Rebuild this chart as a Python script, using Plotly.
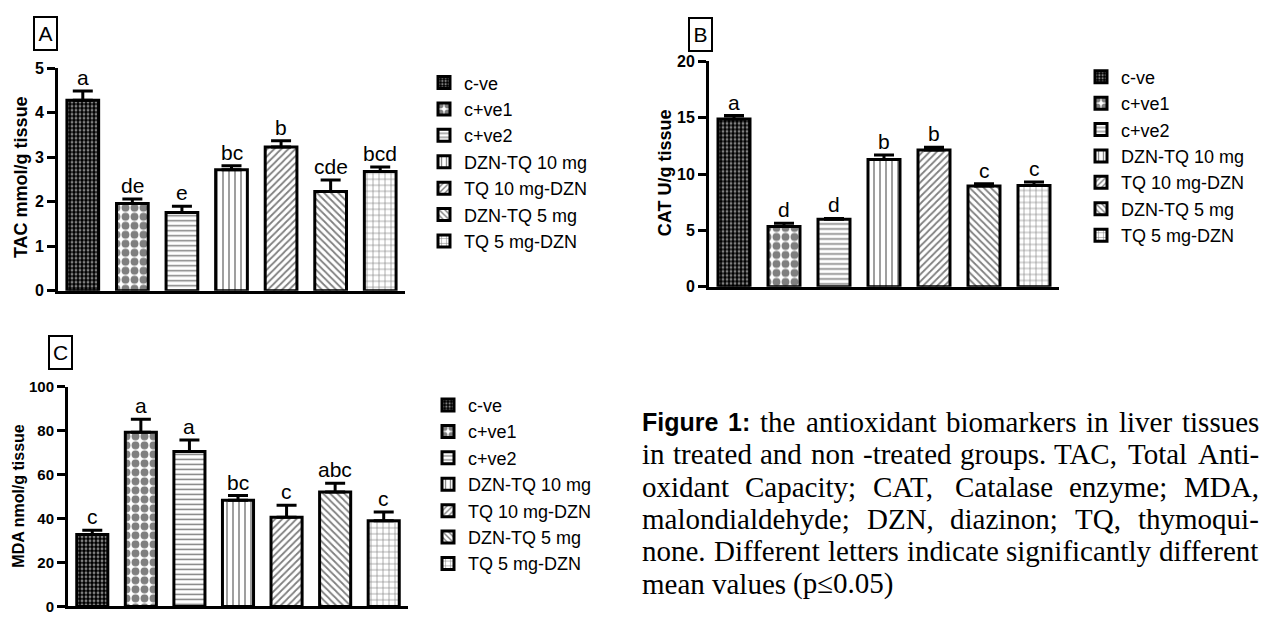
import plotly.graph_objects as go

# ---------------- data ----------------
groups = ["c-ve", "c+ve1", "c+ve2", "DZN-TQ 10 mg", "TQ 10 mg-DZN", "DZN-TQ 5 mg", "TQ 5 mg-DZN"]

tac_mean = [4.28, 1.96, 1.76, 2.72, 3.23, 2.23, 2.68]
tac_err = [0.21, 0.10, 0.14, 0.09, 0.14, 0.26, 0.10]
tac_letters = ["a", "de", "e", "bc", "b", "cde", "bcd"]

cat_mean = [14.9, 5.35, 5.99, 11.3, 12.14, 8.95, 9.0]
cat_err = [0.3, 0.3, 0.08, 0.4, 0.25, 0.2, 0.3]
cat_letters = ["a", "d", "d", "b", "b", "c", "c"]

mda_mean = [32.8, 79.3, 70.6, 48.4, 40.6, 52.1, 39.0]
mda_err = [1.9, 5.9, 5.2, 2.1, 5.5, 4.0, 4.0]
mda_letters = ["c", "a", "a", "bc", "c", "abc", "c"]

tac_ticks = [0, 1, 2, 3, 4, 5]
cat_ticks = [0, 5, 10, 15, 20]
mda_ticks = [0, 20, 40, 60, 80, 100]

caption_lines = [
    "Figure 1: the antioxidant biomarkers in liver tissues",
    "in treated and non -treated groups. TAC, Total Anti-",
    "oxidant Capacity; CAT, Catalase enzyme; MDA,",
    "malondialdehyde; DZN, diazinon; TQ, thymoqui-",
    "none. Different letters indicate significantly different",
    "mean values (p\u22640.05)",
]

# ---------------- styles ----------------
W, H = 1262, 629
SANS = "Liberation Sans, Arial, sans-serif"
SERIF = "Liberation Serif, Times New Roman, serif"

def px(x):
    return x / W

def py(y):
    return 1 - y / H

patterns = [
    dict(shape=".", bgcolor="black", fgcolor="white", size=4, solidity=0.4),
    dict(shape=".", bgcolor="white", fgcolor="black", size=9, solidity=0.6),
    dict(shape="-", bgcolor="white", fgcolor="black", size=5, solidity=0.3),
    dict(shape="|", bgcolor="white", fgcolor="black", size=6, solidity=0.25),
    dict(shape="/", bgcolor="white", fgcolor="black", size=5, solidity=0.35),
    dict(shape="\\", bgcolor="white", fgcolor="black", size=5, solidity=0.35),
    dict(shape="+", bgcolor="white", fgcolor="black", size=6, solidity=0.2),
]

panels = [
    dict(vals=tac_mean, errs=tac_err, letters=tac_letters, ticks=tac_ticks,
         xa="x", ya="y", lg="legend",
         xdom=(58, 405), ydom=(290, 61), rng=(0, 5),
         title="TAC mmol/g tissue", tpos=(21, 173), tsize=18,
         label="A", lpos=(45.5, 25.5), legpos=(424, 57), tick_size=16),
    dict(vals=cat_mean, errs=cat_err, letters=cat_letters, ticks=cat_ticks,
         xa="x2", ya="y2", lg="legend2",
         xdom=(709, 1059), ydom=(286, 54), rng=(0, 20),
         title="CAT U/g tissue", tpos=(665, 169), tsize=18,
         label="B", lpos=(700.5, 26), legpos=(1081, 51), tick_size=16),
    dict(vals=mda_mean, errs=mda_err, letters=mda_letters, ticks=mda_ticks,
         xa="x3", ya="y3", lg="legend3",
         xdom=(68, 408), ydom=(615, 389), rng=(0, 100),
         title="MDA nmol/g tissue", tpos=(19, 501), tsize=16,
         label="C", lpos=(60, 353.5), legpos=(428, 389), tick_size=15),
]

fig = go.Figure()
annotations = []
layout = {}

for k, p in enumerate(panels):
    sfx = "" if k == 0 else str(k + 1)
    for i, g in enumerate(groups):
        fig.add_trace(go.Bar(
            x=[g], y=[p["vals"][i]], name=g,
            xaxis=p["xa"], yaxis=p["ya"], legend=p["lg"],
            width=0.64,
            marker=dict(color="white", line=dict(color="black", width=3),
                        pattern=patterns[i]),
            error_y=dict(type="data", array=[p["errs"][i]], arrayminus=[0],
                         symmetric=False, color="black", thickness=3, width=10),
            hoverinfo="skip",
        ))
        annotations.append(dict(
            x=g, y=p["vals"][i] + p["errs"][i], xref=p["xa"], yref=p["ya"],
            text=p["letters"][i], showarrow=False, yanchor="bottom",
            font=dict(family=SANS, size=21, color="black"), yshift=0,
        ))
    layout["xaxis" + sfx] = dict(
        domain=[px(p["xdom"][0]), px(p["xdom"][1])], anchor=p["ya"],
        type="category", categoryorder="array", categoryarray=groups,
        range=[-0.5, 6.5], showline=True, linecolor="black", linewidth=3,
        showticklabels=False, ticks="", showgrid=False, zeroline=False,
    )
    layout["yaxis" + sfx] = dict(
        domain=[py(p["ydom"][0]), py(p["ydom"][1])], anchor=p["xa"],
        range=list(p["rng"]), tickvals=p["ticks"], showline=True,
        linecolor="black", linewidth=3, ticks="outside", ticklen=8,
        tickwidth=3, tickcolor="black", showgrid=False, zeroline=False,
        tickfont=dict(family=SANS, size=p["tick_size"], color="black", weight="bold"),
    )
    layout[p["lg"]] = dict(
        x=px(p["legpos"][0]), xanchor="left", y=py(p["legpos"][1]), yanchor="top",
        font=dict(family=SANS, size=18, color="black"),
        bgcolor="rgba(0,0,0,0)", borderwidth=0, tracegroupgap=0,
    )
    # y-axis title
    annotations.append(dict(
        x=px(p["tpos"][0]), y=py(p["tpos"][1]), xref="paper", yref="paper",
        text="<b>" + p["title"] + "</b>", textangle=-90, showarrow=False,
        xanchor="center", yanchor="middle",
        font=dict(family=SANS, size=p["tsize"], color="black"),
    ))
    # panel label box
    annotations.append(dict(
        x=px(p["lpos"][0]), y=py(p["lpos"][1]), xref="paper", yref="paper",
        text=p["label"], showarrow=False, xanchor="center", yanchor="middle",
        width=21, height=31, borderpad=0, bordercolor="black", borderwidth=2,
        font=dict(family=SANS, size=21, color="black"),
    ))

# ---------------- caption (justified, word by word) ----------------
TIMES = {' ': 250, '(': 333, ')': 333, ',': 250, '-': 333, '.': 250, '0': 500, '1': 500,
         '5': 500, ':': 278, ';': 278, 'A': 722, 'C': 667, 'D': 722, 'F': 556, 'M': 889,
         'N': 722, 'Q': 722, 'T': 611, 'Z': 611, 'a': 444, 'b': 500, 'c': 444, 'd': 500,
         'e': 444, 'f': 333, 'g': 500, 'h': 500, 'i': 278, 'k': 500, 'l': 278, 'm': 778,
         'n': 500, 'o': 500, 'p': 500, 'r': 333, 's': 389, 't': 278, 'u': 500, 'v': 500,
         'x': 500, 'y': 500, 'z': 444, '\u2264': 549}
ARIALB = {'F': 611, 'i': 278, 'g': 611, 'u': 611, 'r': 389, 'e': 556, '1': 556, ':': 333, ' ': 278}
CAP_SIZE = 29
BOLD_SIZE = 25
CAP_L, CAP_R = 642, 1259
CAP_Y0, CAP_DY = 425, 33.3

def width(word, bold):
    table, size = (ARIALB, BOLD_SIZE) if bold else (TIMES, CAP_SIZE)
    return sum(table.get(c, 500) for c in word) * size / 1000.0

for li, line in enumerate(caption_lines):
    words = line.split(" ")
    bolds = [li == 0 and wi < 2 for wi in range(len(words))]
    widths = [width(w_, b_) for w_, b_ in zip(words, bolds)]
    last = li == len(caption_lines) - 1
    gap = TIMES[' '] * CAP_SIZE / 1000.0 if last else (CAP_R - CAP_L - sum(widths)) / (len(words) - 1)
    x = CAP_L
    yc = CAP_Y0 + li * CAP_DY
    for w_, b_, wd in zip(words, bolds, widths):
        annotations.append(dict(
            x=px(x), y=py(yc), xref="paper", yref="paper",
            text=("<b>" + w_ + "</b>") if b_ else w_, showarrow=False,
            xanchor="left", yanchor="middle", borderpad=0, borderwidth=0,
            font=dict(family=SANS if b_ else SERIF, size=BOLD_SIZE if b_ else CAP_SIZE,
                      color="black"),
        ))
        x += wd + gap

fig.update_layout(
    width=W, height=H, margin=dict(l=0, r=0, t=0, b=0, pad=0),
    paper_bgcolor="white", plot_bgcolor="white",
    barmode="overlay", showlegend=True, annotations=annotations,
    **layout,
)

fig.write_html("out.html", config={"displayModeBar": False},
               post_script="document.body.style.margin='0';document.body.style.overflow='hidden';")
